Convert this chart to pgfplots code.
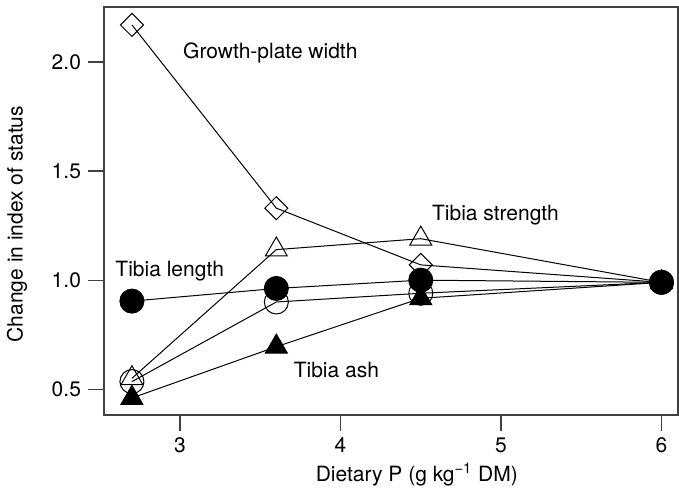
\documentclass[border=0pt]{standalone}
\usepackage{fontspec}
\setmainfont{TeX Gyre Heros}
\usepackage{pgfplots}
\pgfplotsset{compat=1.18}

\begin{document}
\begin{tikzpicture}
\begin{axis}[
  scale only axis, width=287pt, height=204pt,
  xmin=2.526, xmax=6.103, ymin=0.382, ymax=2.252,
  xtick={3,4,5,6}, ytick={0.5,1,1.5,2},
  yticklabel style={/pgf/number format/.cd, fixed, fixed zerofill, precision=1},
  /pgf/number format/assume math mode=true,
  tick align=outside, tick pos=left,
  major tick length=8pt,
  axis line style={line width=0.6pt, black!75},
  tick style={line width=0.6pt, black!75},
  font=\fontsize{10.5}{12}\selectfont,
  xlabel={Dietary P (g kg\textsuperscript{−1} DM)},
  ylabel={Change in index of status},
  xlabel style={at={(axis description cs:0.545,-0.147)}, anchor=center},
  ylabel style={at={(axis description cs:-0.1516,0.468)}, anchor=center},
  clip=false,
  every axis plot/.append style={line width=0.5pt, black},
]
% Growth-plate width (open diamonds)
\addplot[mark=square, mark size=4.07pt, mark options={rotate=45, solid, fill=none}]
  coordinates {(2.7,2.17) (3.6,1.33) (4.5,1.07) (6,0.99)};
% Tibia strength (open triangles)
\addplot[mark=triangle, mark size=6.3pt, mark options={solid, fill=none}]
  coordinates {(2.7,0.55) (3.6,1.14) (4.5,1.19) (6,0.99)};
% open circles
\addplot[mark=o, mark size=6pt, mark options={solid}]
  coordinates {(2.7,0.535) (3.6,0.90) (4.5,0.94) (6,0.99)};
% Tibia ash (filled triangles)
\addplot[mark=triangle*, mark size=6.3pt, mark options={solid, fill=black}]
  coordinates {(2.7,0.46) (3.6,0.695) (4.5,0.917) (6,0.99)};
% Tibia length (filled circles)
\addplot[mark=*, mark size=6pt, mark options={solid, fill=black}]
  coordinates {(2.7,0.904) (3.6,0.962) (4.5,1.0) (6,0.99)};

\node[anchor=base west, inner sep=0pt] at (axis cs:3.017,2.016) {Growth-plate width};
\node[anchor=base west, inner sep=0pt] at (axis cs:4.568,1.275) {Tibia strength};
\node[anchor=base west, inner sep=0pt] at (axis cs:2.595,1.016) {Tibia length};
\node[anchor=base west, inner sep=0pt] at (axis cs:3.706,0.555) {Tibia ash};
\end{axis}
\pgfresetboundingbox
\path[use as bounding box] ([xshift=-52pt,yshift=-38.5pt]current axis.south west)
  rectangle ([xshift=0.5pt,yshift=3.5pt]current axis.north east);
\end{tikzpicture}
\end{document}
